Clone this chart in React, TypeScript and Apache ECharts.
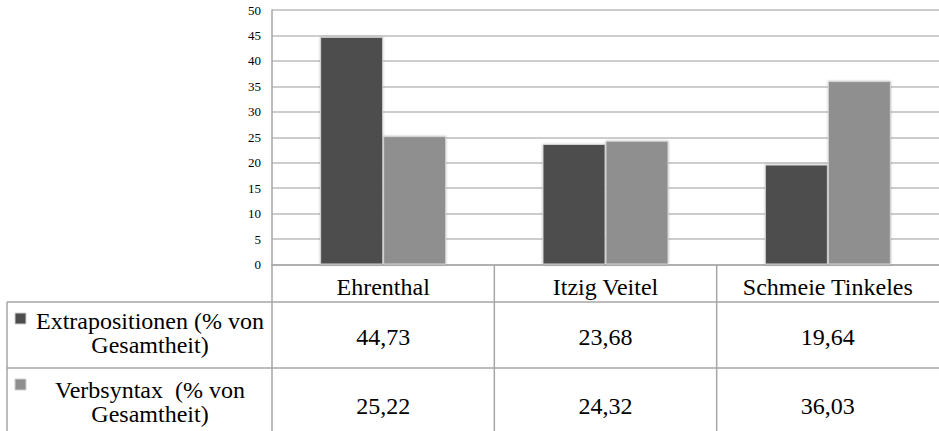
import React, { useEffect, useRef } from "react";
import * as echarts from "echarts";

const categories = ["Ehrenthal", "Itzig Veitel", "Schmeie Tinkeles"];
const seriesNames = ["Extrapositionen (% von\nGesamtheit)", "Verbsyntax  (% von\nGesamtheit)"];
const extrapositionen = [44.73, 23.68, 19.64];
const verbsyntax = [25.22, 24.32, 36.03];
const seriesValues = [extrapositionen, verbsyntax];
const seriesColors = ["#4d4d4d", "#8f8f8f"];

const W = 939;
const H = 431;
const GRID_LEFT = 272;
const GRID_TOP = 10;
const AXIS_Y = 264.5;
const TABLE_LEFT = 7;
const ROW1_TOP = 302;
const ROW2_TOP = 368;
const ROW2_BOTTOM = 440;
const LINE_COLOR = "#a6a6a6";
const FONT = "Times New Roman, Tinos, DejaVu Serif";

const fmt = (v: number) => v.toFixed(2).replace(".", ",");

export default function App() {
  const ref = useRef<HTMLDivElement>(null);
  useEffect(() => {
    if (!ref.current) return;
    const chart = echarts.init(ref.current, null, { renderer: "svg" });
    const colW = (W - GRID_LEFT) / categories.length;
    const graphic: any[] = [];
    const line = (x1: number, y1: number, x2: number, y2: number) => ({
      type: "line",
      shape: { x1, y1, x2, y2 },
      style: { stroke: LINE_COLOR, lineWidth: 1.5 },
      silent: true,
    });
    graphic.push(line(GRID_LEFT, AXIS_Y, GRID_LEFT, H));
    for (let i = 1; i < categories.length; i++) {
      const x = GRID_LEFT + i * colW;
      graphic.push(line(x, AXIS_Y, x, H));
    }
    graphic.push(line(TABLE_LEFT, ROW1_TOP, W, ROW1_TOP));
    graphic.push(line(TABLE_LEFT, ROW2_TOP, W, ROW2_TOP));
    graphic.push(line(TABLE_LEFT, ROW1_TOP, TABLE_LEFT, H));
    const rows = [
      [ROW1_TOP, ROW2_TOP],
      [ROW2_TOP, ROW2_BOTTOM],
    ];
    seriesNames.forEach((name, s) => {
      const [t, b] = rows[s];
      const cy = (t + b) / 2;
      graphic.push({
        type: "rect",
        shape: { x: 15, y: t + 11, width: 11, height: 11 },
        style: { fill: seriesColors[s], stroke: "#d0d0d0", lineWidth: 1 },
        silent: true,
      });
      graphic.push({
        type: "text",
        x: 150,
        y: cy - 2,
        style: {
          text: name,
          fontFamily: FONT,
          fontSize: 24,
          lineHeight: 24,
          fill: "#000",
          align: "center",
          verticalAlign: "middle",
        },
        silent: true,
      });
      seriesValues[s].forEach((v, i) => {
        graphic.push({
          type: "text",
          x: GRID_LEFT + (i + 0.5) * colW,
          y: cy + 2,
          style: {
            text: fmt(v),
            fontFamily: FONT,
            fontSize: 24,
            fill: "#000",
            align: "center",
            verticalAlign: "middle",
          },
          silent: true,
        });
      });
    });

    chart.setOption({
      animation: false,
      textStyle: { fontFamily: FONT },
      grid: {
        left: GRID_LEFT,
        right: 0,
        top: GRID_TOP,
        bottom: H - AXIS_Y,
        containLabel: false,
      },
      xAxis: {
        type: "category",
        data: categories,
        axisLine: { show: true, lineStyle: { color: LINE_COLOR, width: 1.5 } },
        axisTick: { show: false },
        axisLabel: {
          interval: 0,
          fontFamily: FONT,
          fontSize: 24,
          color: "#000",
          margin: 22,
          verticalAlign: "middle",
        },
      },
      yAxis: {
        type: "value",
        min: 0,
        max: 50,
        interval: 5,
        axisLine: { show: true, lineStyle: { color: LINE_COLOR, width: 1.5 } },
        axisTick: { show: false },
        axisLabel: { fontFamily: FONT, fontSize: 13, color: "#000", margin: 11 },
        splitLine: { lineStyle: { color: "#bdbdbd", width: 1.5 } },
      },
      series: seriesValues.map((vals, s) => ({
        type: "bar",
        name: seriesNames[s],
        data: vals,
        barWidth: 63,
        barGap: "0%",
        itemStyle: {
          color: seriesColors[s],
          borderColor: "#d4d4d4",
          borderWidth: 1,
          shadowColor: "rgba(0,0,0,0.25)",
          shadowBlur: 2,
        },
      })),
      graphic,
    });
    return () => chart.dispose();
  }, []);
  return (
    <div
      ref={ref}
      style={{ position: "fixed", left: 0, top: 0, width: W, height: H, background: "#fff" }}
    />
  );
}
